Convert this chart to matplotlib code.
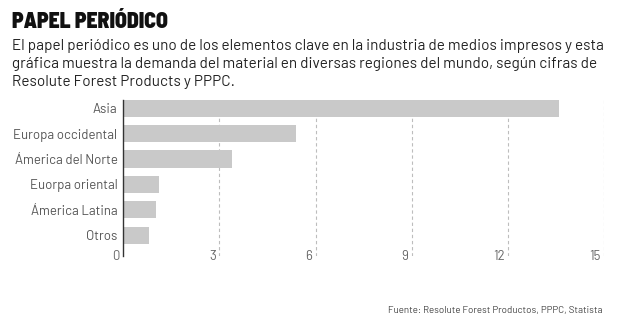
import matplotlib
matplotlib.use("Agg")
import matplotlib.pyplot as plt

# Demanda de papel periódico por región (millones de toneladas)
regions = ["Asia", "Europa occidental", "Ámerica del Norte",
           "Euorpa oriental", "Ámerica Latina", "Otros"]
demand = [13.6, 5.4, 3.4, 1.12, 1.02, 0.82]
xticks = [0, 3, 6, 9, 12, 15]

TITLE = "PAPEL PERIÓDICO"
SUBTITLE = [
    "El papel periódico es uno de los elementos clave en la industria de medios impresos y esta",
    "gráfica muestra la demanda del material en diversas regiones del mundo, según cifras de",
    "Resolute Forest Products y PPPC.",
]
SOURCE = "Fuente: Resolute Forest Productos, PPPC, Statista"

BODY = "Barlow"
BAR = "#c9c9c9"
GRID = "#bdbdbd"
LABEL = "#555555"

fig = plt.figure(figsize=(6.2, 3.28), dpi=100)
fig.patch.set_facecolor("white")
ax = fig.add_axes([123 / 620, 1 - 256 / 328, (604.3 - 123) / 620, 156 / 328])

ypos = list(range(len(regions)))[::-1]
ax.barh(ypos, demand, height=0.68, color=BAR, zorder=3)

ax.set_xlim(0, 15)
ax.set_ylim(-0.82, 5.33)

# líneas de guía punteadas
for x in xticks[1:]:
    ax.axvline(x, color=GRID, lw=0.8, ls=(0, (3, 2.5)), zorder=1)

for s in ["top", "right", "bottom"]:
    ax.spines[s].set_visible(False)
ax.spines["left"].set_color("#333333")
ax.spines["left"].set_linewidth(1.0)
ax.spines["left"].set_zorder(4)

ax.set_xticks([])
ax.set_yticks(ypos)
ax.set_yticklabels(regions, fontsize=9.5, color=LABEL, family=BODY)
ax.tick_params(axis="y", length=0, pad=4)

# etiquetas del eje x alineadas a la derecha de cada línea
for x in xticks:
    ax.annotate(str(x), xy=(x, 0), xycoords=("data", "axes fraction"),
                xytext=(-2.5, 0), textcoords="offset points",
                ha="right", va="center", fontsize=9.5, color="#666666", family=BODY)

fig.text(12 / 620, 1 - 28 / 328, TITLE, fontsize=15.5, fontweight=900,
         family="Barlow Semi Condensed", color="#111111", va="baseline")
for i, line in enumerate(SUBTITLE):
    fig.text(12 / 620, 1 - (50 + 18 * i) / 328, line, fontsize=11, family=BODY,
             color="#222222", va="baseline")

fig.text(602 / 620, 1 - 310 / 328, SOURCE, fontsize=7, family=BODY,
         color="#444444", ha="right", va="center")

fig.savefig("out.png", dpi=100, facecolor="white")
